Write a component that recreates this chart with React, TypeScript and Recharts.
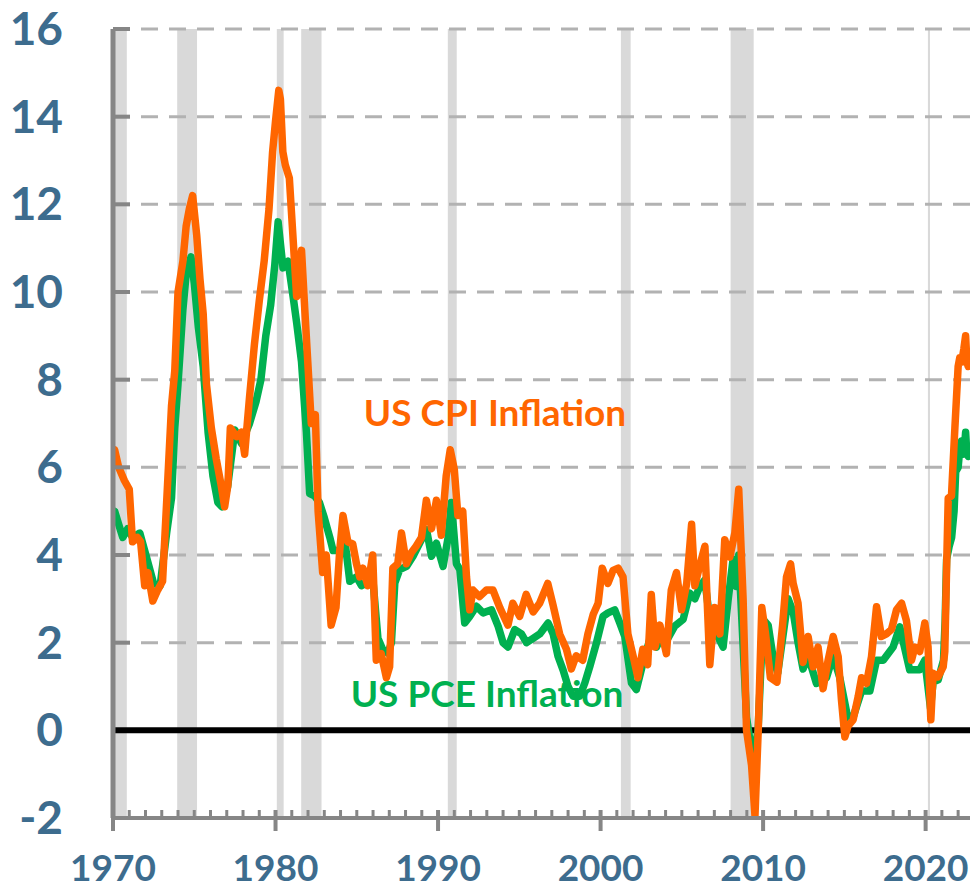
import React from 'react';
import {
	LineChart,
	Line,
	XAxis,
	YAxis,
	ReferenceArea,
	ReferenceLine,
} from 'recharts';

// year (decimal) / YoY % readings for each series
const cpiYears = [
	1970.0, 1970.1, 1970.35, 1970.7, 1971.0, 1971.2, 1971.5, 1971.7, 1971.95, 1972.15, 1972.45, 1972.75,
	1973.05, 1973.3, 1973.6, 1973.8, 1974.0, 1974.3, 1974.5, 1974.7, 1974.9, 1975.15, 1975.35, 1975.55,
	1975.75, 1976.05, 1976.35, 1976.65, 1976.87, 1977.07, 1977.22, 1977.6, 1977.9, 1978.1, 1978.4, 1978.7,
	1979.0, 1979.3, 1979.6, 1979.82, 1980.0, 1980.2, 1980.3, 1980.45, 1980.6, 1980.85, 1981.05, 1981.3,
	1981.45, 1981.6, 1981.8, 1982.0, 1982.2, 1982.45, 1982.62, 1982.9, 1983.12, 1983.42, 1983.72, 1983.95,
	1984.15, 1984.45, 1984.75, 1984.98, 1985.18, 1985.38, 1985.68, 1985.98, 1986.2, 1986.5, 1986.82, 1987.02,
	1987.22, 1987.52, 1987.75, 1988.05, 1988.35, 1988.65, 1988.98, 1989.28, 1989.6, 1989.9, 1990.2, 1990.5,
	1990.75, 1991.0, 1991.22, 1991.52, 1991.75, 1991.95, 1992.15, 1992.55, 1992.98, 1993.38, 1993.8, 1994.3,
	1994.6, 1995.02, 1995.42, 1995.85, 1996.25, 1996.75, 1997.08, 1997.48, 1997.9, 1998.2, 1998.5, 1998.9,
	1999.22, 1999.55, 1999.85, 2000.1, 2000.45, 2000.77, 2001.08, 2001.38, 2001.68, 2002.0, 2002.3, 2002.6,
	2002.9, 2003.12, 2003.35, 2003.65, 2004.05, 2004.35, 2004.67, 2004.98, 2005.3, 2005.6, 2005.8, 2006.1,
	2006.42, 2006.72, 2007.02, 2007.34, 2007.64, 2007.95, 2008.26, 2008.5, 2008.77, 2008.98, 2009.29, 2009.5,
	2009.7, 2009.92, 2010.15, 2010.45, 2010.85, 2011.2, 2011.44, 2011.69, 2011.85, 2012.15, 2012.46, 2012.77,
	2013.08, 2013.38, 2013.69, 2014.0, 2014.31, 2014.62, 2014.82, 2015.03, 2015.23, 2015.54, 2015.85, 2016.06,
	2016.36, 2016.67, 2016.98, 2017.28, 2017.59, 2017.9, 2018.21, 2018.52, 2018.82, 2019.13, 2019.34, 2019.64,
	2019.95, 2020.15, 2020.32, 2020.46, 2020.77, 2021.08, 2021.18, 2021.29, 2021.39, 2021.59, 2021.8, 2022.0,
	2022.1, 2022.22, 2022.35, 2022.46, 2022.54, 2022.62,
];
const cpiValues = [
	6.2, 6.4, 6.0, 5.7, 5.5, 4.3, 4.4, 4.3, 3.3, 3.6, 2.95, 3.2,
	3.4, 5.2, 7.4, 8.2, 10.0, 10.7, 11.5, 11.9, 12.2, 11.3, 10.3, 9.5,
	7.9, 6.9, 6.2, 5.6, 5.1, 5.6, 6.9, 6.7, 6.8, 6.3, 7.6, 8.8,
	9.8, 10.7, 11.9, 13.2, 13.9, 14.6, 14.4, 13.2, 12.9, 12.6, 11.4, 9.9,
	10.6, 10.95, 9.6, 8.3, 7.0, 7.2, 5.0, 3.6, 4.0, 2.4, 2.8, 4.1,
	4.9, 4.3, 4.25, 3.8, 3.5, 3.7, 3.3, 4.0, 1.6, 1.75, 1.2, 1.45,
	3.7, 3.8, 4.5, 3.8, 4.05, 4.2, 4.4, 5.25, 4.6, 5.25, 4.45, 5.8,
	6.4, 5.95, 4.9, 5.0, 3.5, 2.75, 3.2, 3.05, 3.2, 3.2, 2.8, 2.4,
	2.9, 2.6, 3.1, 2.7, 2.9, 3.35, 2.85, 2.2, 1.85, 1.4, 1.7, 1.6,
	2.2, 2.65, 2.9, 3.7, 3.35, 3.65, 3.7, 3.5, 2.2, 1.7, 1.2, 1.85,
	1.5, 3.1, 1.9, 2.4, 1.75, 3.2, 3.6, 2.75, 3.35, 4.7, 3.3, 3.75,
	4.2, 1.5, 2.8, 2.2, 4.35, 3.95, 4.5, 5.5, 3.0, 0.0, -0.8, -1.95,
	0.0, 2.8, 2.2, 1.2, 1.1, 2.4, 3.5, 3.8, 3.35, 2.9, 1.55, 2.14,
	1.45, 1.9, 0.95, 1.6, 2.14, 1.68, 0.7, -0.15, 0.1, 0.24, 0.77, 1.2,
	1.07, 1.68, 2.82, 2.14, 2.2, 2.3, 2.75, 2.9, 2.5, 1.6, 1.9, 1.8,
	2.45, 1.9, 0.24, 1.3, 1.22, 1.45, 1.8, 3.7, 5.3, 5.35, 6.9, 8.3,
	8.5, 8.4, 8.7, 9.0, 8.4, 8.3,
];

const pceYears = [
	1970.0, 1970.1, 1970.35, 1970.6, 1970.9, 1971.2, 1971.65, 1972.1, 1972.5, 1972.9, 1973.3, 1973.6,
	1973.8, 1974.0, 1974.3, 1974.5, 1974.8, 1975.0, 1975.25, 1975.55, 1975.85, 1976.15, 1976.45, 1976.7,
	1977.05, 1977.5, 1977.9, 1978.4, 1978.8, 1979.1, 1979.4, 1979.7, 1979.95, 1980.16, 1980.46, 1980.77,
	1981.08, 1981.3, 1981.6, 1981.9, 1982.1, 1982.4, 1982.7, 1983.0, 1983.34, 1983.54, 1983.95, 1984.26,
	1984.57, 1984.98, 1985.29, 1985.6, 1986.0, 1986.3, 1986.6, 1986.92, 1987.13, 1987.34, 1987.64, 1988.06,
	1988.46, 1988.87, 1989.29, 1989.6, 1989.9, 1990.31, 1990.62, 1990.82, 1991.13, 1991.34, 1991.64, 1991.95,
	1992.36, 1992.77, 1993.29, 1993.7, 1994.0, 1994.3, 1994.72, 1995.13, 1995.44, 1995.85, 1996.26, 1996.77,
	1997.08, 1997.38, 1997.69, 1998.0, 1998.3, 1998.72, 1999.03, 1999.34, 1999.75, 2000.15, 2000.46, 2000.87,
	2001.18, 2001.49, 2001.9, 2002.2, 2002.62, 2003.03, 2003.44, 2003.85, 2004.15, 2004.57, 2005.08, 2005.49,
	2005.8, 2006.1, 2006.41, 2006.72, 2007.13, 2007.54, 2007.85, 2008.15, 2008.36, 2008.5, 2008.98, 2009.38,
	2009.69, 2010.0, 2010.31, 2010.6, 2010.9, 2011.54, 2011.85, 2012.15, 2012.46, 2012.77, 2013.28, 2013.9,
	2014.31, 2014.72, 2015.23, 2015.54, 2016.06, 2016.57, 2016.98, 2017.39, 2018.0, 2018.41, 2019.02, 2019.64,
	2019.95, 2020.3, 2020.46, 2020.77, 2021.1, 2021.2, 2021.29, 2021.45, 2021.6, 2021.75, 2021.85, 2022.0,
	2022.12, 2022.2, 2022.3, 2022.4, 2022.46, 2022.54, 2022.62,
];
const pceValues = [
	4.9, 5.0, 4.7, 4.4, 4.6, 4.4, 4.5, 3.9, 3.35, 3.3, 4.5, 5.3,
	6.9, 7.9, 9.6, 10.4, 10.8, 10.2, 9.2, 8.3, 6.8, 5.8, 5.2, 5.1,
	5.55, 6.85, 6.55, 7.0, 7.5, 8.0, 9.0, 9.7, 10.6, 11.6, 10.55, 10.7,
	9.9, 9.3, 8.4, 6.8, 5.4, 5.35, 5.2, 4.85, 4.4, 4.1, 4.1, 4.35,
	3.4, 3.5, 3.3, 3.36, 3.4, 2.1, 1.84, 1.76, 2.0, 3.36, 3.67, 3.74,
	3.97, 4.27, 4.58, 3.97, 4.27, 3.74, 4.4, 5.2, 3.8, 3.67, 2.45, 2.6,
	2.83, 2.68, 2.75, 2.37, 2.0, 1.9, 2.3, 2.2, 2.0, 2.1, 2.2, 2.45,
	2.2, 1.69, 1.38, 1.0, 0.78, 0.78, 1.08, 1.46, 2.0, 2.6, 2.68, 2.75,
	2.45, 2.14, 1.08, 0.93, 1.55, 2.08, 1.9, 2.2, 2.1, 2.38, 2.53, 3.13,
	3.0, 3.28, 3.43, 2.53, 2.2, 1.9, 2.98, 3.9, 3.28, 4.0, 0.3, -0.7,
	0.0, 2.53, 2.4, 1.7, 1.3, 3.0, 2.7, 2.0, 1.4, 1.7, 1.07, 1.2,
	1.7, 1.2, 0.25, 0.3, 0.9, 0.9, 1.6, 1.6, 1.9, 2.36, 1.38, 1.38,
	1.6, 0.5, 1.1, 1.15, 1.6, 2.5, 3.9, 4.2, 4.4, 5.0, 5.9, 6.0,
	6.5, 6.6, 6.3, 6.5, 6.8, 6.3, 6.25,
];

// NBER recessions (shaded)
const recessionStart = [1970.0, 1973.95, 1980.08, 1981.58, 1990.6, 2001.25, 2008.0, 2020.14];
const recessionEnd = [1970.85, 1975.17, 1980.5, 1982.83, 1991.15, 2001.85, 2009.42, 2020.27];

const yTicks = [-2, 0, 2, 4, 6, 8, 10, 12, 14, 16];
const gridValues = [2, 4, 6, 8, 10, 12, 14, 16];
const majorYears = [1970, 1980, 1990, 2000, 2010, 2020];

const cpiData = cpiYears.map((t, i) => ({ t, v: cpiValues[i] }));
const pceData = pceYears.map((t, i) => ({ t, v: pceValues[i] }));
const yearTicks: number[] = [];
for (let y = 1970; y <= 2022; y++) yearTicks.push(y);

const W = 970;
const H = 888;
const PLOT_LEFT = 113;
const PLOT_BOTTOM = 818;
const AXIS_GRAY = '#868686';
const LABEL_BLUE = '#3d6c8e';
const FONT = 'Lato, "Open Sans", sans-serif';

function YTick(props: any) {
	const { y, payload } = props;
	const v = payload.value;
	return (
		<g>
			{v > 0 && (
				<line x1={PLOT_LEFT} x2={PLOT_LEFT + 17} y1={y} y2={y} stroke={AXIS_GRAY} strokeWidth={4} />
			)}
			<text x={63} y={y} dy={16} textAnchor="end" fill={LABEL_BLUE} fontFamily={FONT} fontWeight={700} fontSize={46}>
				{v}
			</text>
		</g>
	);
}

function XTick(props: any) {
	const { x, payload } = props;
	const major = majorYears.includes(payload.value);
	if (!major) {
		return <line x1={x} x2={x} y1={PLOT_BOTTOM - 8} y2={PLOT_BOTTOM} stroke={AXIS_GRAY} strokeWidth={3} />;
	}
	return (
		<g>
			<line x1={x} x2={x} y1={PLOT_BOTTOM - 8} y2={PLOT_BOTTOM + 13} stroke={AXIS_GRAY} strokeWidth={4} />
			<text x={x} y={881} textAnchor="middle" fill={LABEL_BLUE} fontFamily={FONT} fontWeight={700} fontSize={37}>
				{payload.value}
			</text>
		</g>
	);
}

export default function App() {
	return (
		<div style={{ position: 'absolute', left: 0, top: 0, width: W, height: H, background: '#fff' }}>
			<LineChart width={W} height={H} margin={{ top: 29, right: 0, bottom: 0, left: 0 }}>
				<XAxis
					dataKey="t"
					type="number"
					domain={[1970, 2022.73]}
					ticks={yearTicks}
					interval={0}
					allowDataOverflow
					height={70}
					axisLine={{ stroke: AXIS_GRAY, strokeWidth: 4 }}
					tickLine={false}
					tick={<XTick />}
				/>
				<YAxis
					type="number"
					domain={[-2, 16]}
					ticks={yTicks}
					interval={0}
					width={113}
					axisLine={{ stroke: AXIS_GRAY, strokeWidth: 5 }}
					tickLine={false}
					tick={<YTick />}
				/>
				{recessionStart.map((s, i) => (
					<ReferenceArea key={'r' + i} x1={s} x2={recessionEnd[i]} y1={-2} y2={16} fill="#d9d9d9" fillOpacity={1} stroke="none" />
				))}
				{gridValues.map((v) => (
					<ReferenceLine key={'g' + v} y={v} stroke="#b2b2b2" strokeWidth={3} strokeDasharray="17 11" />
				))}
				<ReferenceLine y={0} stroke="#000" strokeWidth={6} />
				<Line data={pceData} dataKey="v" type="linear" stroke="#00b050" strokeWidth={7.5} dot={false} strokeLinejoin="round" strokeLinecap="round" isAnimationActive={false} />
				<Line data={cpiData} dataKey="v" type="linear" stroke="#ff6600" strokeWidth={7.5} dot={false} strokeLinejoin="round" strokeLinecap="round" isAnimationActive={false} />
			</LineChart>
			<svg width={W} height={H} style={{ position: 'absolute', left: 0, top: 0, pointerEvents: 'none' }}>
				<text x={495} y={426} textAnchor="middle" fill="#ff6600" fontFamily={FONT} fontWeight={700} fontSize={37}>
					US CPI Inflation
				</text>
				<text x={487} y={707} textAnchor="middle" fill="#00b050" fontFamily={FONT} fontWeight={700} fontSize={37}>
					US PCE Inflation
				</text>
			</svg>
		</div>
	);
}
